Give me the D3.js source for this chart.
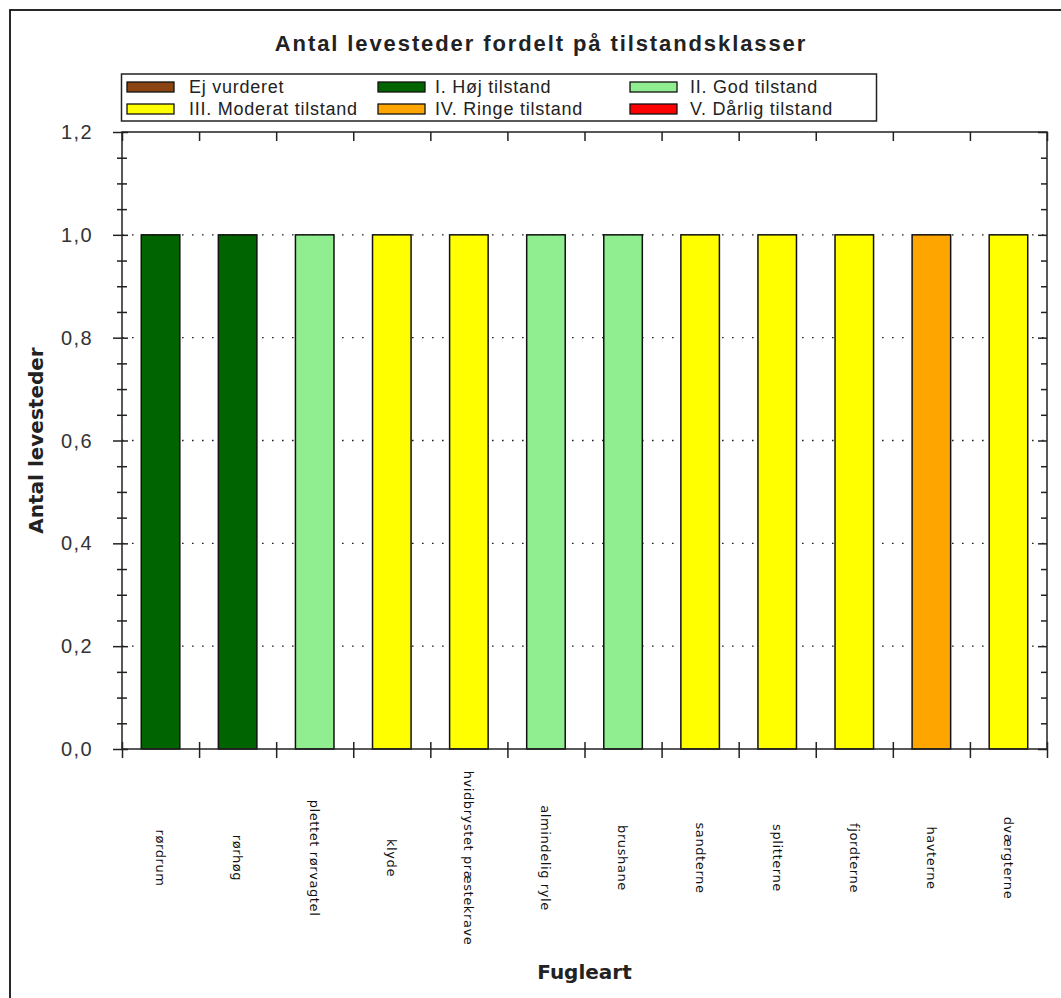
<!DOCTYPE html>
<meta charset="utf-8">
<style>
body { margin: 0; background: #fff; }
text { fill: #222; }
.ytick text { font: 20px "Liberation Sans", Arial; letter-spacing: 1.4px; fill: #333; }
.title { font: bold 22px "Liberation Sans", Arial; letter-spacing: 1.9px; }
.legend text { font: 18px "Liberation Sans", Arial; letter-spacing: 0.75px; }
.xlabel { font: 13px "DejaVu Sans"; letter-spacing: 0.6px; fill: #111; }
.axtitle { font: bold 20px "DejaVu Sans"; }
.axis line { stroke: #222; stroke-width: 1.5; }
.axis path { display: none; }
</style>
<body>
<div id="chart"></div>
<script src="https://d3js.org/d3.v7.min.js"></script>
<script>

// fuglearter (x-akse)
var fuglearter = ["rørdrum", "rørhøg", "plettet rørvagtel", "klyde", "hvidbrystet præstekrave",
    "almindelig ryle", "brushane", "sandterne", "splitterne", "fjordterne", "havterne", "dværgterne"];

// tilstandsklasser og farver
var klasser = ["Ej vurderet", "I. Høj tilstand", "II. God tilstand",
    "III. Moderat tilstand", "IV. Ringe tilstand", "V. Dårlig tilstand"];
var farver = ["#8B4513", "#006400", "#90EE90", "#FFFF00", "#FFA500", "#FF0000"];

// antal levesteder pr. klasse
var ejVurderet = [0, 0, 0, 0, 0, 0, 0, 0, 0, 0, 0, 0];
var hoej       = [1, 1, 0, 0, 0, 0, 0, 0, 0, 0, 0, 0];
var god        = [0, 0, 1, 0, 0, 1, 1, 0, 0, 0, 0, 0];
var moderat    = [0, 0, 0, 1, 1, 0, 0, 1, 1, 1, 0, 1];
var ringe      = [0, 0, 0, 0, 0, 0, 0, 0, 0, 0, 1, 0];
var daarlig    = [0, 0, 0, 0, 0, 0, 0, 0, 0, 0, 0, 0];

var yMajor = [0, 0.2, 0.4, 0.6, 0.8, 1.0, 1.2];

var largeur = 1061, hauteur = 998;
var margin = {top: 132, right: 14, bottom: 249, left: 122};

var serier = [ejVurderet, hoej, god, moderat, ringe, daarlig];
var rows = fuglearter.map(function(f, i) {
    var r = {art: f};
    serier.forEach(function(s, k) { r[k] = s[i]; });
    return r;
});

const svg = d3.select("#chart").append("svg")
    .attr("width", largeur)
    .attr("height", hauteur);

// ramme rundt om det hele
svg.append("rect")
    .attr("x", 10).attr("y", 10)
    .attr("width", 1200).attr("height", 1200)
    .attr("fill", "none").attr("stroke", "#111").attr("stroke-width", 1.8);

var x = d3.scaleBand()
    .domain(fuglearter)
    .range([margin.left, largeur - margin.right])
    .paddingInner(0.5)
    .paddingOuter(0.25);
var xb = d3.scaleLinear()
    .domain([0, fuglearter.length])
    .range([margin.left, largeur - margin.right]);
var y = d3.scaleLinear()
    .domain([0, 1.2])
    .range([hauteur - margin.bottom, margin.top]);

var minor = d3.range(0, 1.2001, 0.05).filter(function(v) { return Math.abs(v * 5 - Math.round(v * 5)) > 1e-6; });

// gitterlinjer
svg.append("g").selectAll("line")
    .data(yMajor.filter(function(v) { return v > 0 && v < 1.2; }))
    .enter().append("line")
    .attr("x1", margin.left).attr("x2", largeur - margin.right)
    .attr("y1", d => y(d)).attr("y2", d => y(d))
    .attr("stroke", "#222").attr("stroke-width", 1.4)
    .attr("stroke-dasharray", "1.6,8.4");

// søjler
var stack = d3.stack().keys(d3.range(serier.length))(rows);
svg.append("g").selectAll("g")
    .data(stack)
    .enter().append("g")
    .attr("fill", (d, i) => farver[i])
    .selectAll("rect")
    .data(d => d.filter(p => p[1] - p[0] > 0))
    .enter().append("rect")
    .attr("x", d => x(d.data.art))
    .attr("width", x.bandwidth())
    .attr("y", d => y(d[1]))
    .attr("height", d => y(d[0]) - y(d[1]))
    .attr("stroke", "#111").attr("stroke-width", 1.5);

// ramme om plot
svg.append("rect")
    .attr("x", margin.left).attr("y", margin.top)
    .attr("width", largeur - margin.right - margin.left)
    .attr("height", hauteur - margin.bottom - margin.top)
    .attr("fill", "none").attr("stroke", "#222").attr("stroke-width", 1.5);

// venstre akse
var yl = svg.append("g").attr("class", "axis ytick")
    .attr("transform", "translate(" + margin.left + ",0)")
    .call(d3.axisLeft(y).tickValues(yMajor).tickSize(9).tickPadding(20)
        .tickFormat(d => d3.format(".1f")(d).replace(".", ",")));
yl.selectAll("line").attr("x2", -9).attr("x1", 6);
yl.selectAll("text").attr("dy", "0.33em");
var ylm = svg.append("g").attr("class", "axis")
    .attr("transform", "translate(" + margin.left + ",0)")
    .call(d3.axisLeft(y).tickValues(minor).tickSize(5).tickFormat(""));
ylm.selectAll("line").attr("x1", 5);

// højre akse (ticks indad)
svg.append("g").attr("class", "axis")
    .attr("transform", "translate(" + (largeur - margin.right) + ",0)")
    .call(d3.axisLeft(y).tickValues(yMajor).tickSize(9).tickFormat(""));
svg.append("g").attr("class", "axis")
    .attr("transform", "translate(" + (largeur - margin.right) + ",0)")
    .call(d3.axisLeft(y).tickValues(minor).tickSize(6).tickFormat(""));

// nederste akse
var xbot = svg.append("g").attr("class", "axis")
    .attr("transform", "translate(0," + (hauteur - margin.bottom) + ")")
    .call(d3.axisBottom(xb).tickValues(d3.range(fuglearter.length + 1)).tickSize(9).tickFormat(""));
xbot.selectAll("line").attr("y1", -7);

// øverste akse
svg.append("g").attr("class", "axis")
    .attr("transform", "translate(0," + margin.top + ")")
    .call(d3.axisBottom(xb).tickValues(d3.range(fuglearter.length + 1)).tickSize(9).tickFormat(""));

// fuglearter, lodret tekst
svg.append("g").selectAll("text")
    .data(fuglearter)
    .enter().append("text")
    .attr("class", "xlabel")
    .attr("transform", d => "translate(" + (x(d) + x.bandwidth() / 2) + ",858) rotate(90)")
    .attr("text-anchor", "middle")
    .attr("dy", "0.35em")
    .text(d => d);

// titler
svg.append("text").attr("class", "title")
    .attr("x", 541).attr("y", 51)
    .attr("text-anchor", "middle")
    .text("Antal levesteder fordelt på tilstandsklasser");
svg.append("text").attr("class", "axtitle")
    .attr("x", (margin.left + largeur - margin.right) / 2).attr("y", 979)
    .attr("text-anchor", "middle")
    .text("Fugleart");
svg.append("text").attr("class", "axtitle")
    .attr("transform", "translate(43," + ((margin.top + hauteur - margin.bottom) / 2) + ") rotate(-90)")
    .attr("text-anchor", "middle")
    .text("Antal levesteder");

// signaturforklaring
var leg = svg.append("g").attr("class", "legend");
leg.append("rect")
    .attr("x", 121.5).attr("y", 74)
    .attr("width", 755).attr("height", 47)
    .attr("fill", "#fff").attr("stroke", "#222").attr("stroke-width", 1.5);
var kolX = [127, 378, 630];
var item = leg.selectAll("g.item")
    .data(klasser)
    .enter().append("g")
    .attr("transform", (d, i) => "translate(" + kolX[i % 3] + "," + (82 + Math.floor(i / 3) * 22) + ")");
item.append("rect")
    .attr("width", 47).attr("height", 10)
    .attr("fill", (d, i) => farver[i])
    .attr("stroke", "#111").attr("stroke-width", 1.3);
item.append("text")
    .attr("x", (d, i) => [62, 57, 60][i % 3])
    .attr("y", 11)
    .text(d => d);

</script>
</body>
